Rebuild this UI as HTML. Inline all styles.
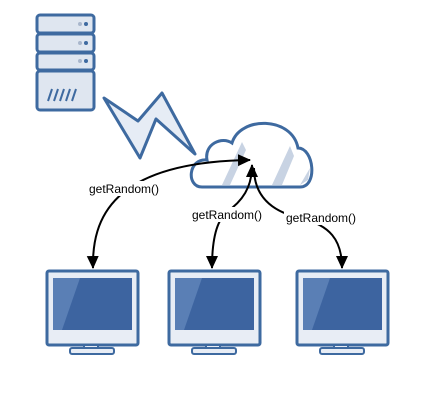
<!DOCTYPE html>
<html><head><meta charset="utf-8"><style>
body{margin:0;background:#fff;width:428px;height:400px;overflow:hidden}
</style></head><body>
<svg width="428" height="400" xmlns="http://www.w3.org/2000/svg" font-family="Liberation Sans, sans-serif">
<defs>
<marker id="ah" markerWidth="14" markerHeight="14" refX="12" refY="6" orient="auto-start-reverse" markerUnits="userSpaceOnUse">
<path d="M0,0 L13,6 L0,12 z" fill="#000"/></marker>
</defs>
<!-- server -->
<g stroke="#3e6aa0" stroke-width="3" fill="#dfe6f0">
<rect x="37" y="15" width="57" height="18" rx="3"/>
<rect x="37" y="34" width="57" height="18" rx="3"/>
<rect x="37" y="53" width="57" height="17" rx="3"/>
<rect x="37" y="71" width="57" height="39" rx="3"/>
</g>
<g fill="#3e6aa0"><circle cx="86" cy="24" r="2"/><circle cx="86" cy="43" r="2"/><circle cx="86" cy="61" r="2"/></g>
<g fill="#a9b7cc"><circle cx="80" cy="24" r="2"/><circle cx="80" cy="43" r="2"/><circle cx="80" cy="61" r="2"/></g>
<g stroke="#3e6aa0" stroke-width="2"><line x1="48" y1="101" x2="52" y2="89"/><line x1="54" y1="101" x2="58" y2="89"/><line x1="60" y1="101" x2="64" y2="89"/><line x1="66" y1="101" x2="70" y2="89"/><line x1="72" y1="101" x2="76" y2="89"/></g>
<!-- lightning -->
<polygon points="104,98 138,121 162,93 195,154 156,119 140,158" fill="#e6ecf5" stroke="#3e6aa0" stroke-width="3" stroke-linejoin="round"/>
<!-- cloud -->
<path d="M202,187 C186,187 188,158 207,160 C204,144 222,136 232,143 C240,116 292,116 298,148 C314,148 318,187 300,187 Z" fill="#fff" stroke="#3e6aa0" stroke-width="3"/>
<g fill="#c8d3e3"><path d="M222,185 L242,142 L246,150 L230,185Z"/><path d="M272,185 L290,146 L294,156 L282,185Z"/><path d="M300,185 L310,168 L308,180Z"/></g>
<!-- monitors -->
<g id="m">
<rect x="47" y="271" width="91" height="74" rx="2" fill="#e8edf5" stroke="#3e6aa0" stroke-width="3"/>
<rect x="53" y="278" width="79" height="52" fill="#3d64a0"/>
<polygon points="53,278 80,278 62,330 53,330" fill="#5a7fb5"/>
<rect x="84" y="345" width="14" height="4" fill="#e8edf5" stroke="#3e6aa0" stroke-width="2"/>
<rect x="70" y="348" width="44" height="6" rx="2" fill="#e8edf5" stroke="#3e6aa0" stroke-width="2"/>
</g>
<use href="#m" x="122"/>
<use href="#m" x="250"/>
<!-- arrows -->
<g fill="none" stroke="#000" stroke-width="2">
<path d="M93,268 C92,220 110,162 250,160" marker-start="url(#ah)" marker-end="url(#ah)"/>
<path d="M212,268 C212,230 220,215 232,208 C248,195 252,180 252,165" marker-start="url(#ah)" marker-end="url(#ah)"/>
<path d="M342,268 C342,240 330,225 300,218 C265,210 254,190 254,168" marker-start="url(#ah)"/>
</g>
<g font-size="12" fill="#000">
<rect x="88" y="181" width="70" height="15" fill="#fff"/>
<text x="89" y="193">getRandom()</text>
<rect x="190" y="207" width="75" height="15" fill="#fff"/>
<text x="192" y="219">getRandom()</text>
<rect x="284" y="210" width="75" height="15" fill="#fff"/>
<text x="286" y="222">getRandom()</text>
</g>
</svg>
</body></html>
